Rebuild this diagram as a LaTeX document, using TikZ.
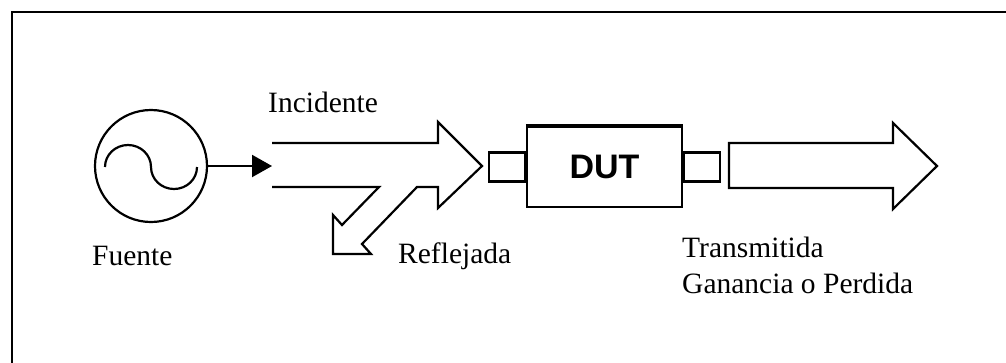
\documentclass[tikz,border=0pt]{standalone}
\usepackage{fontspec}
\setmainfont{Liberation Serif}
\newfontfamily\dutfont{Liberation Sans}
\usetikzlibrary{arrows.meta}
\begin{document}
\begin{tikzpicture}[x=1pt,y=-1pt, line join=miter,
  outline/.style={draw=black, line width=2.2pt},
  lbl/.style={anchor=base west, inner sep=0pt, font=\fontsize{29.5}{36}\selectfont},
  port/.style={draw, line width=2.2pt, minimum width=36pt, minimum height=29pt, inner sep=0pt}]
\useasboundingbox (0,0) rectangle (1006,362);
% frame
\draw[line width=2.2pt] (12,372) -- (12,12) -- (1012,12);
% source
\node[draw, circle, line width=2.2pt, minimum size=112pt, inner sep=0pt] (src) at (151,166) {};
\draw[line width=2.2pt] (105,167) .. controls (105,154.8) and (115.3,145) .. (128,145)
  .. controls (140.7,145) and (151,154.8) .. (151,167)
  .. controls (151,179.2) and (161.3,189) .. (174,189)
  .. controls (186.7,189) and (197,179.2) .. (197,167);
\coordinate (tip) at (272,166);
\draw[line width=2.2pt, -{Triangle[length=20pt,width=22pt]}] (src.east) -- (tip);
% incident + reflected arrow
\draw[outline] (272,143) -- (438,143) -- (438,122) -- (482,166) -- (438,208) -- (438,187)
  -- (417,187) -- (362,244) -- (371,254) -- (333,254) -- (333,215) -- (342,225)
  -- (379,187) -- (272,187);
% DUT
\node[draw, line width=2.2pt, minimum width=155pt, minimum height=80pt, inner sep=0pt,
  font=\dutfont\bfseries\fontsize{34}{34}\selectfont] (dut) at (604.5,167) {DUT};
\draw[line width=3.5pt] (dut.north west) -- (dut.north east);
\node[port, anchor=east] (pL) at (dut.west) {};
\node[port, anchor=west] (pR) at (dut.east) {};
% transmitted arrow
\draw[outline] (729,143) -- (893,143) -- (893,123) -- (937,166) -- (893,209) -- (893,188) -- (729,188) -- cycle;
% labels
\node[lbl] (inc) at (268,112) {Incidente};
\node[lbl] (fue) at (92,265) {Fuente};
\node[lbl] (ref) at (398,263) {Reflejada};
\node[lbl] (tra) at (682,257) {Transmitida};
\node[lbl] (gan) at (682,293) {Ganancia o Perdida};
\end{tikzpicture}
\end{document}
